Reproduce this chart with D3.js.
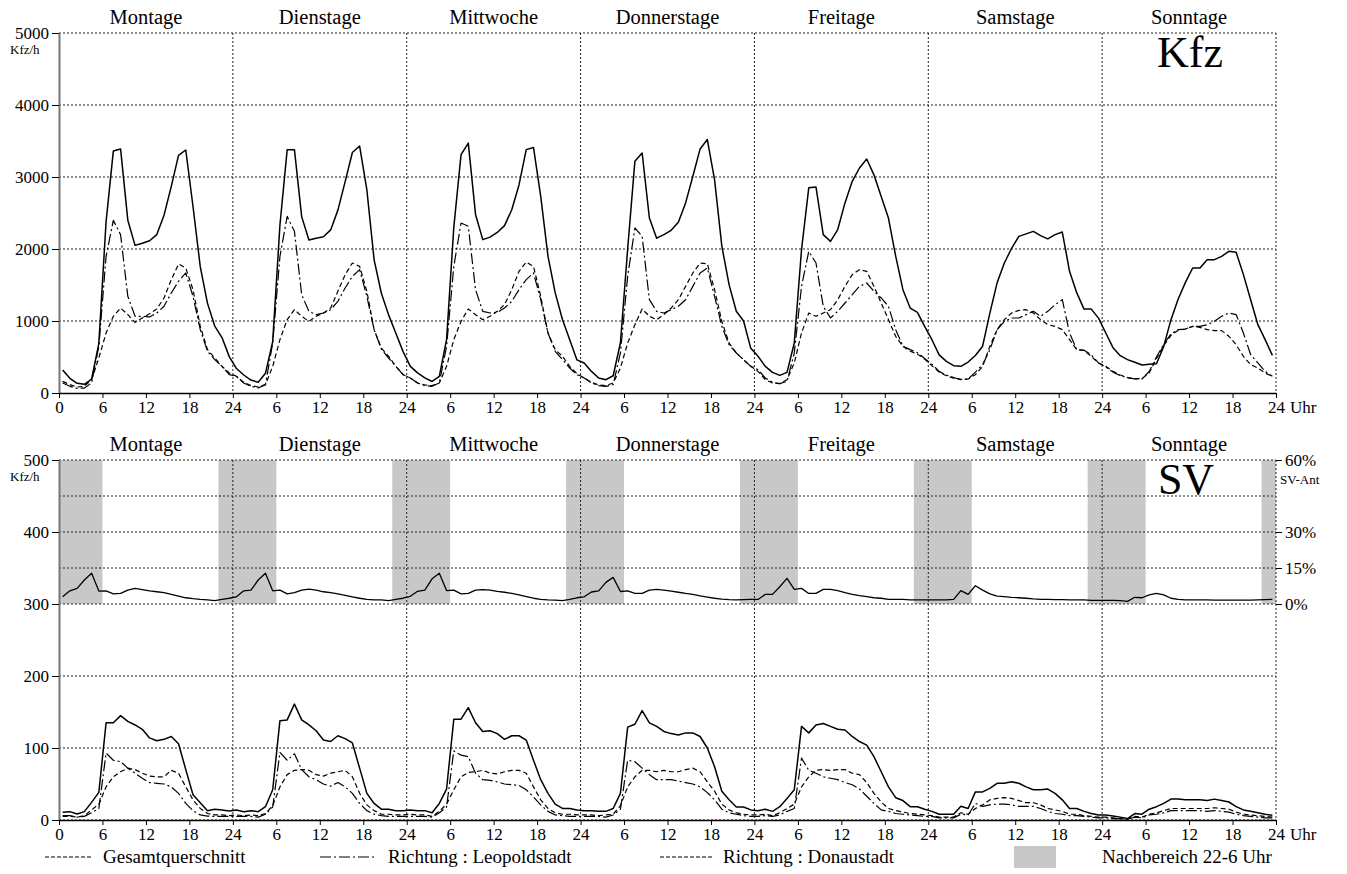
<!DOCTYPE html>
<html><head><meta charset="utf-8">
<script src="https://cdn.jsdelivr.net/npm/d3@7/dist/d3.min.js"></script>
<style>
body{margin:0;background:#fff}
svg{display:block}
text{font-family:"Liberation Serif","Times New Roman",serif;fill:#000}
</style>
</head><body>
<svg id="chart" width="1347" height="874"></svg>
<script>
// ---------- DATA ----------
const dayLabels = ["Montage","Dienstage","Mittwoche","Donnerstage","Freitage","Samstage","Sonntage"];
const hourTicks = [0,6,12,18,24,30,36,42,48,54,60,66,72,78,84,90,96,102,108,114,120,126,132,138,144,150,156,162,168];
const hourTickLabels = ["0","6","12","18","24","6","12","18","24","6","12","18","24","6","12","18","24","6","12","18","24","6","12","18","24","6","12","18","24"];
const kfzTicks = [0,1000,2000,3000,4000,5000];
const svTicks = [0,100,200,300,400,500];
const pctTicks = [0,15,30,60];
const pctTickLabels = ["0%","15%","30%","60%"];
const nightBands = [[0,6],[22,30],[46,54],[70,78],[94,102],[118,126],[142,150],[166,168]];
const legendLabels = ["Gesamtquerschnitt","Richtung : Leopoldstadt","Richtung : Donaustadt","Nachbereich 22-6 Uhr"];

// hourly values, Mon 0h .. Sun 24h (168 values each, plotted at hour midpoints)
const kfzGesamt = [
 319,204,134,120,194,690,2380,3360,3390,2400,2050,2080,2115,2200,2470,2870,3300,3375,2590,1755,1245,930,770,505,
 340,250,180,150,273,713,2333,3380,3380,2450,2125,2150,2170,2265,2540,2935,3340,3430,2820,1850,1385,1085,830,575,
 370,280,210,160,230,740,2300,3310,3470,2480,2130,2165,2230,2325,2545,2890,3380,3410,2730,1900,1390,1020,740,460,
 417,300,208,185,240,694,2000,3220,3333,2430,2150,2200,2260,2370,2640,3010,3390,3520,2960,2040,1505,1135,1000,620,
 509,370,287,245,287,694,1990,2850,2860,2200,2106,2270,2640,2940,3125,3250,3030,2730,2430,1900,1435,1180,1120,925,
 740,530,440,380,370,430,520,650,1110,1530,1805,2010,2175,2210,2245,2185,2140,2200,2235,1690,1390,1165,1165,1040,
 833,630,519,463,426,389,398,407,648,1019,1306,1537,1736,1736,1852,1852,1898,1968,1954,1644,1296,949,741,523];
const kfzLeopoldstadt = [
 139,93,65,69,139,648,1898,2398,2199,1343,1065,1065,1056,1111,1204,1389,1551,1667,1343,880,579,463,370,255,
 231,139,93,69,116,694,1898,2454,2245,1366,1134,1088,1111,1157,1273,1458,1620,1713,1343,880,611,486,370,255,
 208,139,102,93,139,648,1759,2361,2315,1435,1134,1111,1120,1180,1273,1435,1574,1667,1296,833,579,463,347,255,
 208,139,102,93,116,556,1620,2292,2176,1296,1134,1111,1157,1204,1296,1481,1667,1736,1343,926,671,556,463,370,
 324,208,148,130,162,555,1481,1968,1805,1204,1042,1134,1250,1366,1481,1528,1412,1320,1204,880,648,602,560,480,
 400,300,250,215,185,194,290,394,602,880,995,1042,1042,1088,1134,1065,1134,1227,1296,833,602,593,532,417,
 360,290,240,210,195,195,300,500,680,820,880,889,926,926,949,995,1065,1111,1088,833,532,417,300,231];
const kfzDonaustadt = [
 162,116,83,93,185,486,833,1065,1180,1088,981,1042,1100,1167,1320,1574,1792,1736,1435,926,602,486,370,278,
 231,148,102,83,116,370,741,1019,1157,1065,995,1065,1111,1180,1412,1644,1805,1759,1412,880,625,509,370,255,
 208,139,111,102,139,370,741,995,1167,1088,1019,1065,1134,1227,1435,1690,1819,1759,1343,833,602,509,370,269,
 208,148,111,102,139,347,694,949,1167,1065,1019,1088,1180,1296,1481,1667,1805,1796,1435,995,694,556,463,370,
 300,185,139,130,185,417,833,1111,1065,1111,1157,1296,1481,1644,1713,1690,1481,1250,1019,787,648,580,540,470,
 380,290,240,205,190,194,255,370,648,880,1019,1111,1148,1157,1111,1019,949,926,880,741,602,593,509,417,
 370,300,250,215,200,200,280,480,660,800,870,889,926,912,880,866,866,787,671,509,394,347,278,231];
const svGesamt = [
 10.6,11.6,8.3,11.6,24.5,38.4,135,135,145,137,132,126,114,110,112,116,106,70,35,24,13,15,14,12.5,
 14,11.6,13,11.6,18.5,42,138,139,161,139,132,124,111,109,117,113,107,72,37,23,15,15,13,13,
 14,13,13,10,23,43,140,140,156,135,123,124,120,112,117,117,111,83,56,37,22,16,16,14,
 13,13,12,12,16,37,129,133,152,135,130,123,120,118,121,121,116,100,74,40,28,18,18,14,
 13,15,12,18.5,30,42,130,121,132,134,130,126,125,116,109,104,88,67,46,31,27,18.5,18.5,15,
 12,8,8,8,19,16,39,39,44,51,51,53,51,46,42,42,43,37,28,16,16,12,9,7,
 7,5.5,4,2,9,8,15,18.5,23,29,29,28,28,28,27,29,27,25,18.5,14,12,10,8,6.5];
const svLeopoldstadt = [
 6,6,4,5,10,16,93,83,81,72,65,58,52,51,50,46,37,23,13,7,5.5,5,5,5,
 5,5,5,4,8,18,94,83,92,70,60,56,50,47,52,46,37,23,13,8,6,5,5,5,
 5,5,5,4,10,18,96,90,88,65,56,55,53,50,49,48,42,32,21,12,7,6,5,5,
 5,5,5,4,7,15,83,81,72,63,56,56,56,54,52,50,46,38,28,15,10,8,6,5,
 5,6,5,7,12,16,86,69,65,60,58,56,52,49,43,33,23,14,12,9,8,7,6,5,
 5,3,3,3,8,7,23,19,21,22,22,21,19,19,19,16,12,9,8,6,6,5,4,3,
 3,2,2,1,4,3,7,8,10,13,13,13,13,13,12,13,12,11,8,6,5,4,3,3];
const svDonaustadt = [
 5,5,4,6,14,22,46,60,67,72,70,65,61,60,60,69,65,46,28,16,9,7,7,6,
 7,6,7,6,9,20,46,63,69,70,69,63,61,65,67,69,60,37,21,13,8,8,7,7,
 8,7,7,5,12,22,42,60,66,67,69,65,64,67,69,69,65,46,28,16,10,8,8,7,
 7,7,6,7,8,20,46,60,69,69,67,69,67,67,70,72,67,53,40,22,14,10,8,7,
 7,8,6,10,16,22,46,60,69,70,69,70,70,65,63,52,37,25,16,13,11,9,8,7,
 6,4,4,4,10,8,16,21,28,30,31,30,27,24,24,21,16,14,12,8,8,6,5,4,
 4,3,2,1,5,4,8,10,13,16,16,16,16,16,16,17,16,15,11,8,7,6,5,4];
const svShare = [
 3.0,5.5,6.5,10,12.8,5.4,5.5,4.2,4.4,5.8,6.5,6.0,5.5,5.1,4.7,4.0,3.3,2.6,2.2,1.9,1.7,1.4,1.9,2.4,
 3.0,5.5,5.8,10,12.8,5.5,5.8,4.2,4.7,5.8,6.2,5.8,5.1,4.7,4.2,3.6,3.0,2.4,1.9,1.7,1.7,1.4,1.9,2.4,
 3.2,5.3,5.8,10.5,12.8,5.6,5.8,4.2,4.4,5.8,6.0,5.8,5.3,4.9,4.4,3.8,3.1,2.4,1.9,1.7,1.6,1.4,1.9,2.6,
 3.0,5.0,5.5,9.0,11.1,5.2,5.5,4.4,4.4,5.8,6.1,5.8,5.4,4.9,4.4,4.0,3.4,2.9,2.4,2.0,1.8,1.7,1.8,1.9,
 1.9,4.0,4.0,7.2,10.7,6.1,6.5,4.4,4.4,6.1,6.1,5.6,4.7,4.0,3.5,3.1,2.6,2.4,1.9,1.9,1.9,1.7,1.7,1.7,
 1.7,1.7,1.7,1.9,5.6,4.0,7.6,5.8,4.2,3.3,3.1,2.8,2.6,2.4,2.1,1.9,1.9,1.8,1.8,1.7,1.7,1.7,1.5,1.5,
 1.5,1.5,1.4,1.1,2.8,2.6,3.8,4.4,3.8,2.4,1.9,1.7,1.7,1.7,1.7,1.6,1.6,1.6,1.6,1.6,1.6,1.7,1.8,1.9];

// ---------- DRAW ----------
const svg = d3.select("#chart");
const L = 59, R = 1276;
const x = d3.scaleLinear().domain([0,168]).range([L,R]);
const yK = d3.scaleLinear().domain([0,5000]).range([393,33]);
const yS = d3.scaleLinear().domain([0,500]).range([820,460]);
const yP = d3.scaleLinear().domain([0,60]).range([yS(300), yS(500)]);
const hourMid = i => i + 0.5;
const FONT = '"Liberation Serif","Times New Roman",serif';

const styles = {
  gesamt: {w:1.5, dash:null},
  leop:   {w:1.2, dash:"11,3,2,3"},
  donau:  {w:1.2, dash:"5,3"}
};
const gridStyle = g => g.attr("stroke","#222").attr("stroke-width",1).attr("stroke-dasharray","2,2").attr("fill","none");

function panel(yScale, yTicks, yGridVals, opts){
  const g = svg.append("g");
  const [y0, y1] = yScale.range();
  if (opts.night){
    g.selectAll("rect.night").data(nightBands).join("rect")
      .attr("x", d => x(d[0])).attr("width", d => x(d[1]) - x(d[0]))
      .attr("y", yScale(500)).attr("height", yScale(300) - yScale(500))
      .attr("fill", "#c8c8c8");
  }
  g.selectAll("line.hg").data(yGridVals).join("line")
    .attr("x1", L).attr("x2", R).attr("y1", d => yScale(d)).attr("y2", d => yScale(d))
    .call(gridStyle);
  g.selectAll("line.vg").data(d3.range(1,8).map(i=>i*24)).join("line")
    .attr("x1", d => x(d)).attr("x2", d => x(d)).attr("y1", y1).attr("y2", y0)
    .call(gridStyle);
  g.selectAll("text.day").data(dayLabels).join("text")
    .attr("x", (d,i) => x(i*24+12)).attr("y", y1 - 9)
    .attr("text-anchor","middle").attr("font-size", 20.5).text(d => d);
  const ax = g.append("g").attr("transform", `translate(${L},0)`)
    .call(d3.axisLeft(yScale).tickValues(yTicks).tickSize(7).tickSizeOuter(0).tickPadding(3).tickFormat(d3.format("d")));
  ax.select(".domain").attr("stroke","#777").attr("stroke-width",2);
  ax.selectAll(".tick line").attr("stroke","#000");
  ax.selectAll("text").attr("font-size",17);
  g.append("text").attr("x", 10).attr("y", y1 + 21).attr("font-size", 13).text("Kfz/h");
  const bx = g.append("g").attr("transform", `translate(0,${y0})`)
    .call(d3.axisBottom(x).tickValues(hourTicks).tickSize(5).tickSizeOuter(0).tickPadding(3)
      .tickFormat((d,i) => hourTickLabels[i]));
  bx.select(".domain").attr("stroke","#000").attr("stroke-width",1.3);
  bx.selectAll("text").attr("font-size",17);
  g.append("text").attr("x", R + 14).attr("y", y0 + 20).attr("font-size", 17).text("Uhr");
  g.append("text").attr("x", opts.bigX).attr("y", y1 + 34).attr("text-anchor","middle")
    .attr("font-size", 44).text(opts.big);
  return g;
}

function drawLine(g, yScale, values, st){
  const line = d3.line().x((d,i) => x(hourMid(i))).y(d => yScale(d));
  g.append("path").datum(values).attr("d", line).attr("fill","none")
    .attr("stroke","#000").attr("stroke-width", st.w)
    .attr("stroke-dasharray", st.dash).attr("stroke-linejoin","round");
}

const gTop = panel(yK, kfzTicks, [1000,2000,3000,4000,5000], {night:false, big:"Kfz", bigX:1190});
drawLine(gTop, yK, kfzDonaustadt, styles.donau);
drawLine(gTop, yK, kfzLeopoldstadt, styles.leop);
drawLine(gTop, yK, kfzGesamt, styles.gesamt);

const gBot = panel(yS, svTicks, [0,100,200,300,350,400,450,500], {night:true, big:"SV", bigX:1186});
drawLine(gBot, yS, svDonaustadt, styles.donau);
drawLine(gBot, yS, svLeopoldstadt, styles.leop);
drawLine(gBot, yS, svGesamt, styles.gesamt);
drawLine(gBot, yP, svShare, {w:1.3, dash:null});

const rx = gBot.append("g").attr("transform", `translate(${R},0)`)
  .call(d3.axisRight(yP).tickValues(pctTicks).tickSize(6).tickSizeOuter(0).tickPadding(3)
    .tickFormat((d,i) => pctTickLabels[i]));
rx.select(".domain").remove();
rx.selectAll("text").attr("font-size",17);
gBot.append("text").attr("x", R + 4).attr("y", yS(500) + 24).attr("font-size", 13).text("SV-Ant");

const lg = svg.append("g");
const legY = 857;
const legItems = [
  {x1:45, x2:92, tx:103, dash:"4,2", w:1.2},
  {x1:320, x2:376, tx:388, dash:"11,3,2,3", w:1.2},
  {x1:660, x2:712, tx:723, dash:"4,2", w:1.2}
];
legItems.forEach((it,i) => {
  lg.append("line").attr("x1", it.x1).attr("x2", it.x2).attr("y1", legY).attr("y2", legY)
    .attr("stroke","#000").attr("stroke-width", it.w).attr("stroke-dasharray", it.dash);
  lg.append("text").attr("x", it.tx).attr("y", legY + 6).attr("font-size", 19).text(legendLabels[i]);
});
lg.append("rect").attr("x", 1014).attr("y", 846).attr("width", 42).attr("height", 22).attr("fill","#c8c8c8");
lg.append("text").attr("x", 1102).attr("y", legY + 6).attr("font-size", 19).text(legendLabels[3]);

// force the serif face on every text element
svg.selectAll("text").style("font-family", FONT);
</script>
</body></html>
